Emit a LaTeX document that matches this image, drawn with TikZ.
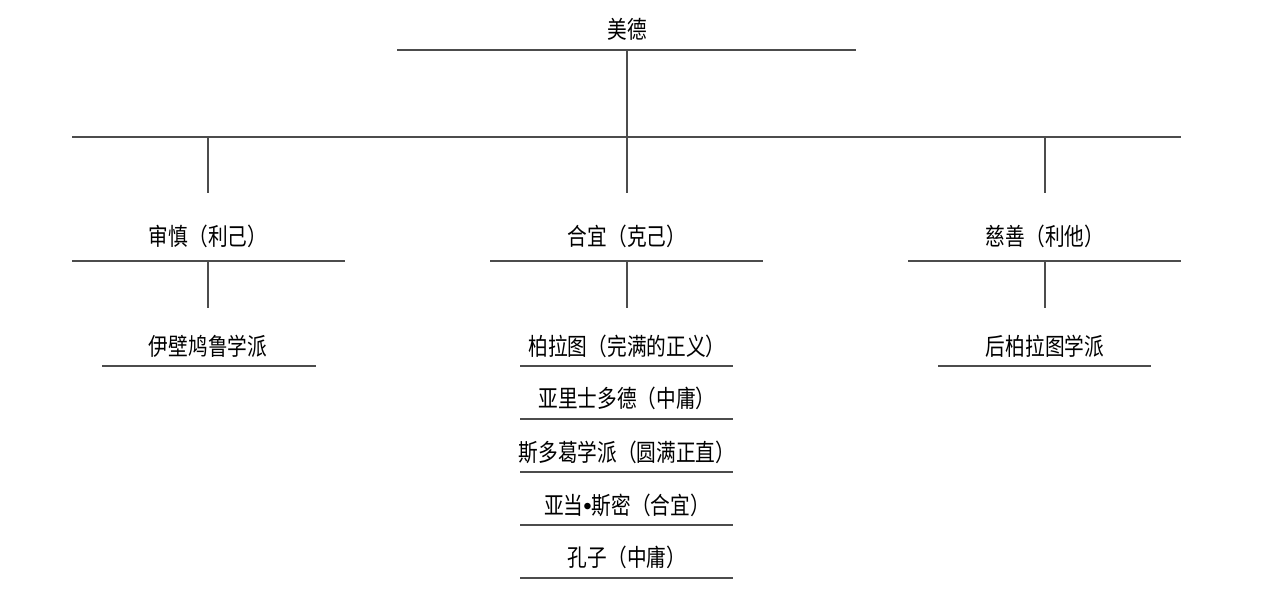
\documentclass[tikz,border=0pt]{standalone}
\usepackage{fontspec}
\newfontfamily\cjk[FakeStretch=0.82]{Noto Sans CJK SC}
\newfontfamily\dotfont{Liberation Sans}
\begin{document}
\begin{tikzpicture}[x=0.5pt, y=-0.5pt,
    lbl/.style={inner sep=0pt, text=black, font=\cjk\fontsize{12}{13}\selectfont},
    ln/.style={draw=black!70, line width=0.9pt}]
    \useasboundingbox (0,0) rectangle (1268,601);

    % root
    \node[lbl] (meide) at (627,29) {美德};
    \coordinate (meideL) at (397,50);
    \coordinate (meideR) at (856,50);
    \draw[ln] (meideL) -- (meideR);

    % bus
    \coordinate (busL) at (72,137);
    \coordinate (busR) at (1181,137);
    \draw[ln] (busL) -- (busR);
    \draw[ln] (meide |- meideL) -- (627,193);

    % level 2
    \node[lbl] (shenshen) at (208,236.5) {审慎（利己）};
    \node[lbl] (heyi) at (627,236.5) {合宜（克己）};
    \node[lbl] (cishan) at (1045,236.5) {慈善（利他）};

    \draw[ln] (shenshen |- busL) -- (208,193);
    \draw[ln] (cishan |- busL) -- (1045,193);

    \coordinate (shenshenL) at (72,261);
    \coordinate (shenshenR) at (345,261);
    \draw[ln] (shenshenL) -- (shenshenR);
    \coordinate (heyiL) at (490,261);
    \coordinate (heyiR) at (763,261);
    \draw[ln] (heyiL) -- (heyiR);
    \coordinate (cishanL) at (908,261);
    \coordinate (cishanR) at (1181,261);
    \draw[ln] (cishanL) -- (cishanR);

    \draw[ln] (shenshen |- shenshenL) -- (208,308);
    \draw[ln] (heyi |- heyiL) -- (627,308);
    \draw[ln] (cishan |- cishanL) -- (1045,308);

    % level 3
    \node[lbl] (yibijiu) at (208,346) {伊壁鸠鲁学派};
    \draw[ln] (102,366) -- (316,366);

    \node[lbl] (houbolatu) at (1045,346) {后柏拉图学派};
    \draw[ln] (938,366) -- (1151,366);

    \node[lbl] (bolatu) at (627,346) {柏拉图（完满的正义）};
    \draw[ln] (520,366) -- (733,366);
    \node[lbl] (yali) at (627,398.5) {亚里士多德（中庸）};
    \draw[ln] (520,419) -- (733,419);
    \node[lbl] (siduoge) at (627,452) {斯多葛学派（圆满正直）};
    \draw[ln] (520,472) -- (733,472);
    \node[lbl] (simi) at (627,505.5) {亚当{\dotfont •}斯密（合宜）};
    \draw[ln] (520,525) -- (733,525);
    \node[lbl] (kongzi) at (627,557.5) {孔子（中庸）};
    \draw[ln] (520,578) -- (733,578);
\end{tikzpicture}
\end{document}
